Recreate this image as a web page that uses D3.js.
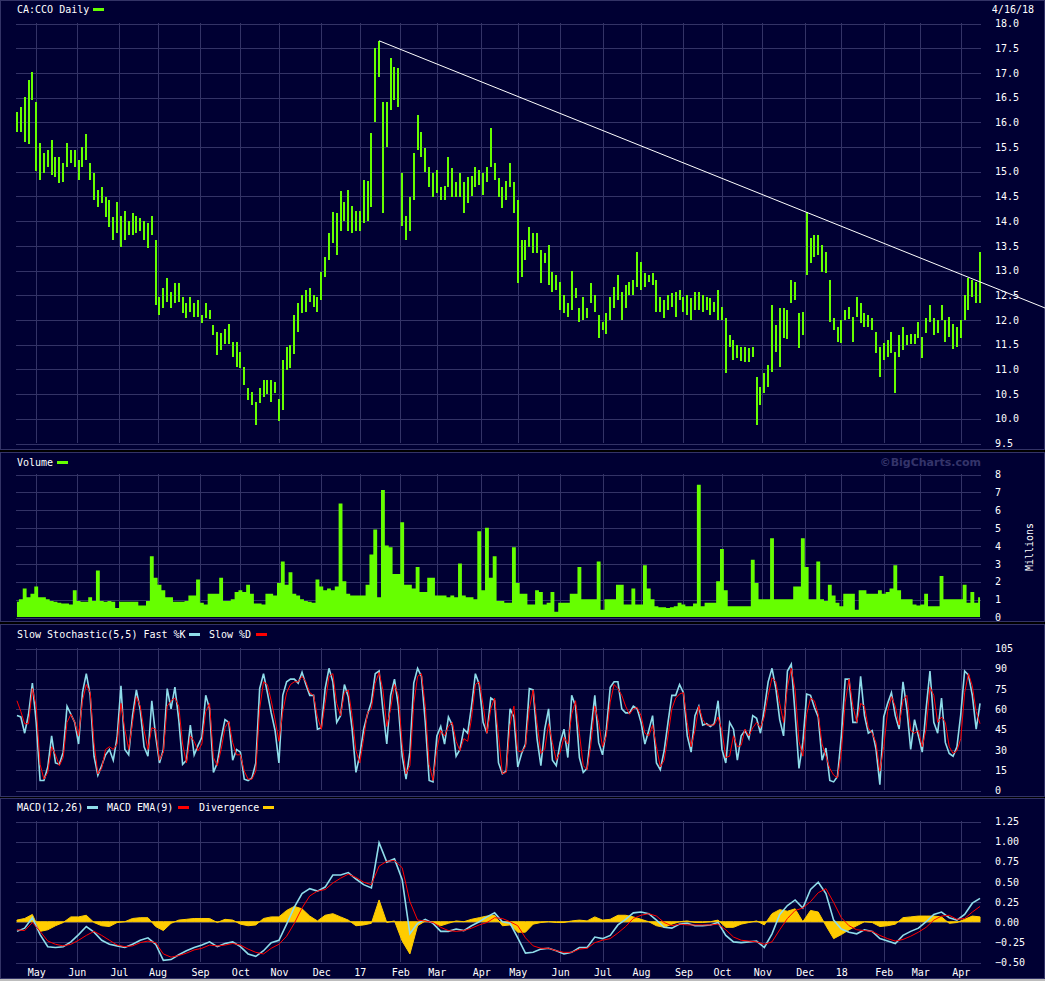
<!DOCTYPE html>
<html lang="en">
<head>
<meta charset="UTF-8">
<title>CA:CCO Daily</title>
<script src="https://d3js.org/d3.v7.min.js"></script>
<style>
  body { margin: 0; background: #000; }
  svg { display: block; }
  text { font-family: "DejaVu Sans Mono", monospace; font-size: 10px; fill: #fff; }
  .grid line { stroke: #333366; shape-rendering: crispEdges; }
  .grid .domain { display: none; }
</style>
</head>
<body>
<div id="chart"></div>
<script>
// price bars, one every 2 trading days (high / low)
const priceHigh = [
  16.2,16.3,16.5,16.85,17.0,16.4,15.57,15.37,15.43,15.63,
  15.29,15.29,15.17,15.57,15.43,15.43,15.23,15.49,15.75,15.17,
  14.96,14.62,14.68,14.48,14.42,14.07,14.38,14.1,14.2,14.0,
  14.15,14.1,14.05,14.0,13.95,14.1,13.6,12.45,12.64,12.84,
  12.55,12.74,12.74,12.45,12.33,12.45,12.33,12.4,12.1,12.33,
  12.2,11.89,11.75,11.73,11.8,11.9,11.54,11.54,11.34,11.04,
  10.61,10.53,10.33,10.61,10.77,10.77,10.77,10.73,10.4,11.18,
  11.44,11.48,12.1,12.33,12.49,12.6,12.64,12.49,12.45,12.96,
  13.26,13.75,14.17,14.15,14.6,14.38,14.62,14.3,14.2,14.2,
  14.82,14.8,15.77,17.49,17.64,16.4,16.4,17.3,17.1,17.09,
  14.96,14.1,14.48,15.37,16.14,15.8,15.47,15.09,14.96,15.03,
  14.68,14.7,15.29,15.07,14.78,14.96,14.78,14.88,14.9,15.09,
  15.03,14.96,15.09,15.87,15.17,14.86,14.68,14.8,15.17,14.78,
  14.42,13.6,13.6,13.87,13.75,13.75,13.4,13.34,13.5,12.96,
  12.9,12.76,12.49,12.33,12.98,12.64,12.23,12.45,12.23,12.74,
  12.5,12.09,11.95,12.13,12.45,12.66,12.9,12.55,12.7,12.76,
  12.8,13.36,13.16,12.94,12.9,12.95,12.8,12.45,12.39,12.49,
  12.53,12.56,12.6,12.45,12.5,12.43,12.56,12.55,12.5,12.45,
  12.43,12.35,12.6,12.25,12.03,11.69,11.58,11.48,11.45,11.44,
  11.42,11.44,10.84,10.63,10.92,11.08,12.3,11.89,12.23,12.23,
  12.2,12.8,12.76,12.13,12.15,14.17,13.65,13.71,13.7,13.5,
  13.36,12.8,12.03,11.85,11.99,12.19,12.25,12.05,12.46,12.33,
  12.13,12.1,12.03,11.75,11.44,11.52,11.58,11.75,11.34,11.69,
  11.85,11.69,11.7,11.7,11.95,11.64,12.03,12.29,12.03,11.99,
  12.29,11.99,12.05,11.9,11.85,11.99,12.49,12.84,12.8,12.76,
  13.36
];
const priceLow = [
  15.8,15.8,15.6,15.55,16.44,15.0,14.82,14.96,15.09,14.92,
  14.88,14.76,14.78,15.09,15.17,15.09,14.82,15.09,15.23,14.82,
  14.42,14.28,14.36,14.07,13.87,13.6,13.75,13.47,13.6,13.7,
  13.7,13.75,13.8,13.6,13.45,13.7,12.3,12.09,12.23,12.35,
  12.23,12.33,12.35,12.13,12.03,12.15,12.05,12.05,11.93,12.03,
  12.0,11.69,11.28,11.38,11.5,11.5,11.24,11.04,11.02,10.67,
  10.37,10.27,9.86,10.31,10.43,10.5,10.33,10.51,9.95,10.17,
  10.98,11.02,11.3,11.75,12.13,12.15,12.35,12.25,12.15,12.39,
  12.86,13.2,13.55,13.3,13.8,14.0,13.8,13.75,13.8,13.8,
  13.95,14.0,14.28,16.0,16.9,14.15,15.5,16.24,16.44,16.3,
  13.9,13.6,13.8,14.42,15.43,15.29,14.99,14.68,14.48,14.56,
  14.42,14.42,14.68,14.48,14.48,14.48,14.15,14.36,14.5,14.68,
  14.72,14.52,14.78,15.09,14.82,14.48,14.25,14.42,14.68,14.15,
  12.74,12.86,13.2,13.47,13.34,13.34,12.74,13.14,12.7,12.56,
  12.6,12.19,12.13,12.05,12.19,12.43,11.95,11.99,12.03,12.33,
  12.15,11.62,11.79,11.7,11.99,12.23,12.39,11.99,12.23,12.49,
  12.5,12.66,12.6,12.66,12.75,12.7,12.15,12.15,12.03,12.19,
  12.25,12.05,12.4,12.15,12.1,11.99,12.19,12.19,12.15,12.2,
  12.09,12.15,11.99,11.99,10.92,11.44,11.18,11.22,11.15,11.14,
  11.14,11.24,9.86,10.27,10.51,10.63,10.94,11.34,11.04,11.62,
  11.6,12.33,12.39,11.42,11.69,12.9,13.14,13.26,13.3,12.96,
  12.94,11.95,11.79,11.54,11.52,11.99,12.0,11.54,12.05,11.93,
  11.85,11.85,11.79,11.32,10.84,11.18,11.24,11.32,10.51,11.24,
  11.38,11.48,11.5,11.5,11.62,11.22,11.73,11.95,11.69,11.73,
  11.99,11.54,11.64,11.4,11.45,11.62,11.99,12.2,12.45,12.33,
  12.33
];
// volume in millions, same spacing
const volume = [
  0.85,1.0,1.6,1.1,1.3,1.7,1.1,1.1,1.0,0.9,
  0.85,0.8,0.75,0.75,0.7,1.5,0.9,0.85,0.85,1.1,
  0.9,2.6,0.9,0.85,0.9,0.85,0.5,0.85,0.85,0.85,
  0.85,0.85,0.65,0.65,0.9,3.4,2.2,1.8,1.5,1.1,
  1.1,0.85,0.85,0.85,0.9,1.2,1.2,2.1,0.8,0.7,
  1.3,1.3,1.3,2.2,0.9,0.9,1.0,1.4,1.5,1.4,
  1.8,1.3,0.75,0.75,0.7,1.3,1.3,1.2,1.9,3.1,
  1.8,2.5,1.3,1.2,1.0,0.9,0.85,0.8,2.1,1.7,
  1.5,1.6,1.5,1.7,6.35,2.0,1.3,1.2,1.2,1.2,
  1.2,1.8,3.5,4.9,1.1,7.1,4.0,3.9,2.4,2.4,
  5.3,1.8,1.8,1.6,2.8,1.4,1.4,2.2,2.2,1.2,
  1.2,1.2,1.1,1.2,1.1,3.0,1.2,1.1,1.1,1.0,
  4.8,1.5,5.0,2.2,3.4,0.9,0.9,0.8,0.8,3.9,
  1.9,1.3,1.3,0.7,0.7,1.5,1.4,0.7,0.8,1.4,
  0.3,0.8,0.8,0.8,1.3,1.3,2.8,1.0,1.0,1.0,
  1.0,3.1,0.4,1.0,1.0,1.0,1.8,1.8,0.7,0.7,
  1.6,0.7,0.7,2.9,1.6,1.0,0.6,0.55,0.55,0.5,
  0.55,0.6,0.8,0.7,0.6,0.6,0.75,7.4,0.6,0.8,
  0.8,0.8,2.0,3.8,1.5,0.6,0.6,0.6,0.6,0.6,
  0.6,3.2,1.9,1.0,1.0,1.0,4.4,1.0,1.0,1.0,
  1.0,1.0,1.7,1.7,4.4,2.8,1.0,1.0,3.1,1.0,
  0.9,1.8,1.2,0.8,0.6,1.3,1.3,1.3,0.4,1.5,
  1.5,1.3,1.3,1.3,1.5,1.3,1.4,1.6,2.9,1.5,
  1.0,1.0,1.0,0.7,0.65,0.7,1.3,0.6,0.6,0.6,
  2.3,1.0,1.0,1.0,1.0,1.0,1.8,0.8,1.4,0.8,
  1.1
];
// slow stochastic, same spacing
const stochK = [
  55,54,42,56,79,50,7,7,17,40, 20,19,28,62,56,50,34,72,86,70,
  25,11,18,26,30,22,39,77,30,26, 55,74,59,32,25,66,40,20,30,75,
  60,76,52,19,22,48,26,33,39,70, 60,13,20,38,52,50,22,30,28,8,
  7,9,20,75,86,72,57,44,20,70, 80,82,82,79,87,78,70,70,45,46,
  75,90,80,50,55,78,69,45,13,26, 45,56,65,86,88,59,34,70,82,62,
  25,8,28,79,90,84,50,7,6,40, 47,34,54,48,25,30,45,42,62,86,
  78,50,42,68,66,20,12,14,60,54, 17,27,34,75,74,38,18,45,60,22,
  18,35,45,24,70,62,24,13,16,44, 70,35,26,45,76,80,80,60,57,57,
  62,60,50,34,44,55,20,15,29,50, 70,70,78,72,40,28,55,62,48,49,
  47,49,66,30,20,50,45,22,40,44, 38,55,53,42,60,80,90,75,52,40,
  88,93,56,16,35,71,70,61,54,22, 31,7,6,10,40,82,82,50,50,84,
  55,42,44,30,4,54,64,72,55,45, 80,60,30,52,40,28,60,88,50,42,
  68,35,27,25,32,56,88,85,70,45, 64
];
const stochD = [
  66,58,49,49,75,62,19,8,13,32, 26,18,24,50,56,50,40,66,78,72,
  35,12,16,30,32,30,34,64,45,30, 50,69,62,44,30,46,45,22,28,62,
  66,68,62,34,20,40,36,29,34,58, 64,24,18,30,46,51,35,26,26,14,
  8,8,14,60,80,78,66,52,36,58, 72,78,80,80,84,80,72,70,54,45,
  64,84,86,64,55,72,74,55,29,20, 38,57,60,79,87,74,47,60,78,70,
  34,12,18,64,84,86,62,19,7,30, 44,40,47,50,36,29,38,36,53,78,
  80,63,42,60,68,40,12,13,48,62, 29,28,32,60,74,50,27,30,49,35,
  22,28,39,34,56,66,42,18,15,34, 62,50,32,40,65,78,75,70,62,56,
  60,61,55,42,40,48,32,17,22,40, 60,68,71,72,50,32,44,62,52,48,
  48,48,54,44,24,25,40,32,33,45, 40,46,50,46,54,70,83,80,64,50,
  76,90,74,36,25,56,68,66,56,34, 25,16,11,9,28,65,82,62,50,64,
  62,46,42,35,14,32,58,69,62,48, 66,70,44,42,44,32,45,76,70,50,
  54,50,32,27,29,38,72,86,77,58, 49
];
// MACD, one every 4 trading days
const macd = [
  -0.12,-0.08,0.05,-0.16,-0.31,-0.32,-0.31,-0.25,-0.16,-0.06,
  -0.13,-0.23,-0.28,-0.30,-0.32,-0.28,-0.23,-0.20,-0.28,-0.48,
  -0.47,-0.41,-0.36,-0.32,-0.29,-0.25,-0.31,-0.27,-0.25,-0.31,
  -0.40,-0.43,-0.36,-0.26,-0.23,-0.03,0.18,0.35,0.41,0.38,
  0.43,0.58,0.58,0.61,0.53,0.46,0.42,0.98,0.74,0.78,
  0.52,-0.15,-0.02,0.03,-0.02,-0.12,-0.12,-0.09,-0.11,-0.05,
  0.00,0.06,0.11,0.00,-0.02,-0.20,-0.39,-0.38,-0.34,-0.33,
  -0.36,-0.40,-0.38,-0.32,-0.32,-0.19,-0.21,-0.17,-0.04,0.03,
  0.11,0.12,0.10,0.02,-0.07,-0.08,-0.03,-0.02,-0.05,-0.05,
  -0.04,-0.01,-0.17,-0.25,-0.26,-0.25,-0.24,-0.32,-0.15,0.09,
  0.20,0.27,0.17,0.40,0.49,0.35,0.02,-0.09,-0.13,-0.15,
  -0.10,-0.12,-0.21,-0.24,-0.27,-0.17,-0.12,-0.08,0.00,0.09,
  0.12,0.05,0.02,0.09,0.23,0.29
];
const macdEma = [
  -0.10,-0.11,-0.01,-0.12,-0.24,-0.28,-0.30,-0.28,-0.23,-0.17,
  -0.12,-0.17,-0.23,-0.29,-0.31,-0.30,-0.26,-0.24,-0.26,-0.40,
  -0.44,-0.42,-0.39,-0.35,-0.33,-0.29,-0.30,-0.29,-0.27,-0.29,
  -0.34,-0.38,-0.40,-0.33,-0.28,-0.18,-0.02,0.17,0.32,0.38,
  0.40,0.48,0.54,0.59,0.55,0.49,0.46,0.69,0.75,0.76,
  0.67,0.25,0.02,0.01,-0.01,-0.07,-0.11,-0.12,-0.11,-0.08,
  -0.04,-0.01,0.05,0.04,0.00,-0.05,-0.20,-0.30,-0.33,-0.33,
  -0.36,-0.38,-0.38,-0.34,-0.33,-0.26,-0.23,-0.21,-0.14,-0.06,
  0.04,0.08,0.10,0.07,-0.01,-0.05,-0.03,-0.04,-0.04,-0.04,
  -0.04,-0.03,-0.10,-0.19,-0.23,-0.24,-0.25,-0.28,-0.25,-0.10,
  0.04,0.14,0.17,0.25,0.36,0.41,0.24,0.05,-0.05,-0.10,
  -0.11,-0.12,-0.17,-0.21,-0.24,-0.22,-0.18,-0.13,-0.07,0.02,
  0.07,0.08,0.03,0.04,0.12,0.19
];
const macdDiv = [
  0.02,0.04,0.09,-0.12,-0.10,-0.05,-0.01,0.06,0.06,0.08,
  -0.01,-0.05,-0.06,-0.01,0.00,0.04,0.05,0.05,-0.06,-0.11,
  -0.02,0.02,0.03,0.04,0.04,0.04,-0.01,0.03,0.02,-0.03,
  -0.05,-0.04,0.04,0.06,0.06,0.14,0.19,0.16,0.07,0.01,
  0.08,0.10,0.06,0.02,-0.05,-0.04,-0.02,0.27,-0.01,0.01,
  -0.24,-0.40,-0.05,0.01,-0.01,-0.05,-0.02,0.01,0.00,0.03,
  0.05,0.07,0.08,-0.05,-0.04,-0.13,-0.13,-0.03,-0.01,0.00,
  -0.01,-0.01,0.01,0.02,0.01,0.06,0.02,0.03,0.08,0.08,
  0.06,0.03,0.00,-0.05,-0.07,-0.03,0.00,0.01,-0.01,-0.01,
  0.00,0.02,-0.07,-0.07,-0.03,-0.01,0.01,-0.04,0.10,0.15,
  0.13,0.16,0.00,0.14,0.12,-0.05,-0.21,-0.16,-0.10,-0.05,
  0.00,-0.01,-0.06,-0.05,-0.03,0.05,0.06,0.07,0.07,0.07,
  0.06,-0.02,-0.01,0.03,0.07,0.06
];
// resistance line: trading-day index and price at its two anchors
const trendIdx = [188, 500];
const trendVal = [17.64, 12.76];

// tick labels
const priceTicks = [9.5,10,10.5,11,11.5,12,12.5,13,13.5,14,14.5,15,15.5,16,16.5,17,17.5,18];
const volumeTicks = [0,1,2,3,4,5,6,7,8];
const stochTicks = [0,15,30,45,60,75,90,105];
const macdTicks = [-0.5,-0.25,0,0.25,0.5,0.75,1.0,1.25];

// TSX market holidays inside the range
const holidays = ["2016-05-23","2016-07-01","2016-08-01","2016-09-05","2016-10-10","2016-12-26","2016-12-27",
  "2017-01-02","2017-02-20","2017-04-14","2017-05-22","2017-07-03","2017-08-07","2017-09-04","2017-10-09",
  "2017-12-25","2017-12-26","2018-01-01","2018-02-19","2018-03-30"];

// build the trading calendar
const fmtKey = d3.timeFormat("%Y-%m-%d");
const days = [];
for (let d = new Date(2016, 3, 18); d <= new Date(2018, 3, 16); d.setDate(d.getDate() + 1)) {
  const wd = d.getDay();
  if (wd === 0 || wd === 6 || holidays.includes(fmtKey(d))) continue;
  days.push(new Date(d));
}
const monthIdx = [];
for (let i = 1; i < days.length; i++) {
  if (days[i].getMonth() !== days[i - 1].getMonth()) monthIdx.push(i);
}

const W = 1045, H = 981;
const left = 16, right = 981;

const svg = d3.select("#chart").append("svg")
  .attr("width", W).attr("height", H);

const x = d3.scaleLinear().domain([-0.5, days.length - 0.5]).range([left, right]);

// draws a panel frame + grid, returns its y scale
function panel(top, bottom, gTop, gBot, domain, ticks, fmt) {
  svg.append("rect")
    .attr("x", 0.5).attr("y", top + 0.5)
    .attr("width", W - 1).attr("height", bottom - top - 1)
    .attr("fill", "#000033").attr("stroke", "#333366");
  const y = d3.scaleLinear().domain(domain).range([gBot, gTop]);
  svg.append("g").attr("class", "grid")
    .selectAll("line").data(monthIdx).join("line")
    .attr("x1", d => Math.round(x(d)) + 0.5).attr("x2", d => Math.round(x(d)) + 0.5)
    .attr("y1", gTop).attr("y2", gBot);
  svg.append("g").attr("class", "grid")
    .attr("transform", `translate(${right},0.5)`)
    .call(d3.axisRight(y).tickValues(ticks).tickFormat(fmt)
      .tickSizeInner(-(right - left)).tickSizeOuter(0).tickPadding(14));
  return y;
}

// ---- price panel
const yP = panel(0, 450, 23, 443, [9.5, 18], priceTicks, d3.format(".1f"));
const bars = priceHigh.map((h, i) => ({ idx: 2 * i, h: h, l: priceLow[i] }));
svg.append("g").selectAll("line").data(bars).join("line")
  .attr("x1", d => Math.round(x(d.idx))).attr("x2", d => Math.round(x(d.idx)))
  .attr("y1", d => yP(d.h)).attr("y2", d => yP(d.l))
  .attr("stroke", "#66ff00").attr("stroke-width", 2)
  .attr("shape-rendering", "crispEdges");

// resistance line extended to the right edge
const slope = (trendVal[1] - trendVal[0]) / (trendIdx[1] - trendIdx[0]);
const endIdx = x.invert(W);
svg.append("line")
  .attr("x1", x(trendIdx[0])).attr("y1", yP(trendVal[0]))
  .attr("x2", x(endIdx)).attr("y2", yP(trendVal[0] + slope * (endIdx - trendIdx[0])))
  .attr("stroke", "#fff").attr("stroke-width", 1);

svg.append("text").attr("x", 17).attr("y", 13).text("CA:CCO Daily");
svg.append("rect").attr("x", 93).attr("y", 8).attr("width", 11).attr("height", 3).attr("fill", "#66ff00");
svg.append("text").attr("x", 1034).attr("y", 13).attr("text-anchor", "end").text("4/16/18");

// ---- volume panel
const yV = panel(452, 622, 474, 617, [0, 8], volumeTicks, d3.format("d"));
const vol = volume.map((v, i) => ({ idx: 2 * i, v: v }));
svg.append("path").datum(vol)
  .attr("fill", "#66ff00")
  .attr("d", d3.area().curve(d3.curveStep)
    .x(d => x(d.idx)).y0(yV(0)).y1(d => yV(d.v)));
svg.append("text").attr("x", 17).attr("y", 466).text("Volume");
svg.append("rect").attr("x", 57).attr("y", 461).attr("width", 11).attr("height", 3).attr("fill", "#66ff00");
svg.append("text").attr("x", 981).attr("y", 466).attr("text-anchor", "end")
  .style("font-family", "'DejaVu Sans', sans-serif").style("font-weight", "bold")
  .style("font-size", "11px").style("fill", "#34346a").text("\u00a9BigCharts.com");
svg.append("text").attr("transform", "translate(1033,547) rotate(-90)")
  .attr("text-anchor", "middle").text("Millions");

// ---- stochastic panel
const yS = panel(624, 797, 648, 790, [0, 105], stochTicks, d3.format("d"));
const stochLine = arr => d3.line().x((d, i) => x(2 * i)).y(d => yS(d))(arr);
svg.append("path").attr("d", stochLine(stochK))
  .attr("fill", "none").attr("stroke", "#8fdcea").attr("stroke-width", 1.6);
svg.append("path").attr("d", stochLine(stochD))
  .attr("fill", "none").attr("stroke", "#ff0000").attr("stroke-width", 1);
svg.append("text").attr("x", 17).attr("y", 638).text("Slow Stochastic(5,5) Fast %K");
svg.append("rect").attr("x", 189).attr("y", 633).attr("width", 11).attr("height", 3).attr("fill", "#8fdcea");
svg.append("text").attr("x", 209).attr("y", 638).text("Slow %D");
svg.append("rect").attr("x", 256).attr("y", 633).attr("width", 11).attr("height", 3).attr("fill", "#ff0000");

// ---- MACD panel
const yM = panel(798, 979, 821, 962, [-0.5, 1.25], macdTicks, d3.format(".2f"));
svg.append("path").datum(macdDiv)
  .attr("fill", "#ffcc00").attr("stroke", "#ffcc00").attr("stroke-width", 1)
  .attr("d", d3.area().x((d, i) => x(4 * i)).y0(yM(0)).y1(d => yM(d)));
const macdLine = arr => d3.line().x((d, i) => x(4 * i)).y(d => yM(d))(arr);
svg.append("path").attr("d", macdLine(macd))
  .attr("fill", "none").attr("stroke", "#8fdcea").attr("stroke-width", 1.6);
svg.append("path").attr("d", macdLine(macdEma))
  .attr("fill", "none").attr("stroke", "#ff0000").attr("stroke-width", 1);
svg.append("text").attr("x", 17).attr("y", 811).text("MACD(12,26)");
svg.append("rect").attr("x", 87).attr("y", 806).attr("width", 11).attr("height", 3).attr("fill", "#8fdcea");
svg.append("text").attr("x", 107).attr("y", 811).text("MACD EMA(9)");
svg.append("rect").attr("x", 178).attr("y", 806).attr("width", 11).attr("height", 3).attr("fill", "#ff0000");
svg.append("text").attr("x", 199).attr("y", 811).text("Divergence");
svg.append("rect").attr("x", 263).attr("y", 806).attr("width", 11).attr("height", 3).attr("fill", "#ffcc00");

// month labels under the last panel
const monthFmt = d3.timeFormat("%b"), yearFmt = d3.timeFormat("%y");
svg.append("g").attr("class", "grid")
  .attr("transform", "translate(0,962)")
  .call(d3.axisBottom(x).tickValues(monthIdx)
    .tickFormat(i => days[i].getMonth() === 0 ? yearFmt(days[i]) : monthFmt(days[i]))
    .tickSize(0).tickPadding(7));

svg.append("rect").attr("x", 0).attr("y", 979).attr("width", W).attr("height", 2).attr("fill", "#bdbdbd");
</script>
</body>
</html>
